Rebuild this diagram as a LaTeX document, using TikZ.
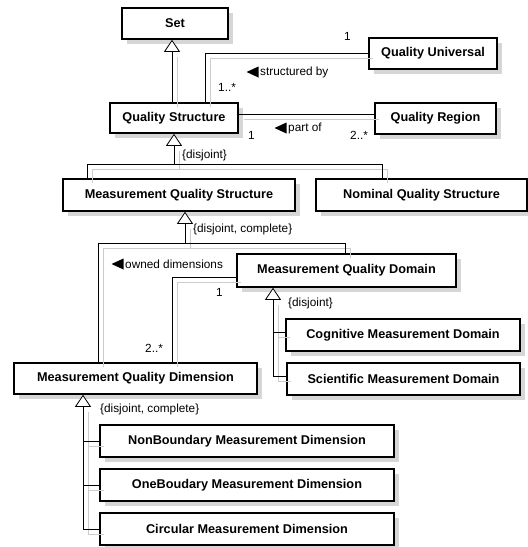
\documentclass[tikz,border=0pt]{standalone}
\usepackage{fontspec}
\setmainfont{Liberation Sans}
\usetikzlibrary{arrows.meta,shadows}
\tikzset{
  cls/.style={draw=black, line width=1.6pt, fill=white, rectangle, inner sep=0pt,
    minimum height=31pt, font=\fontsize{12.7}{14}\selectfont\bfseries,
    drop shadow={shadow xshift=5pt, shadow yshift=-5pt, fill=black!16, opacity=1, draw=none}},
  lbl/.style={inner sep=0pt, anchor=west, font=\fontsize{11.8}{13}\selectfont},
  conn/.style={draw=black, line width=0.8pt},
  gen/.style={conn, -{Triangle[open, fill=white, length=12pt, width=16pt, line width=0.8pt]}},
  shd/.style={draw=black!20, line width=0.8pt, transform canvas={shift={(5pt,-5pt)}}},
  shdgen/.style={shd, shorten >=12pt},
}
\begin{document}
\begin{tikzpicture}[x=1pt, y=-1pt]
\useasboundingbox (0,0) rectangle (528,547);

% classes
\node[cls, minimum width=106] (set) at (175,23.5) {Set};
\node[cls, minimum width=128] (qu) at (433,53.5) {Quality Universal};
\node[cls, minimum width=128, minimum height=30] (qs) at (174,118) {Quality Structure};
\node[cls, minimum width=121] (qr) at (435.5,118.5) {Quality Region};
\node[cls, minimum width=232, minimum height=32] (mqs) at (179,195) {Measurement Quality Structure};
\node[cls, minimum width=211, minimum height=32] (nqs) at (421.5,195) {Nominal Quality Structure};
\node[cls, minimum width=219, minimum height=33] (mqd) at (346.5,270.5) {Measurement Quality Domain};
\node[cls, minimum width=234, minimum height=32] (cmd) at (403,335) {Cognitive Measurement Domain};
\node[cls, minimum width=233, minimum height=32] (smd) at (403.5,379) {Scientific Measurement Domain};
\node[cls, minimum width=243] (mqdim) at (135.5,378.5) {Measurement Quality Dimension};
\node[cls, minimum width=294, minimum height=32] (nbmd) at (247,441) {NonBoundary Measurement Dimension};
\node[cls, minimum width=294, minimum height=32] (obmd) at (247,485) {OneBoudary Measurement Dimension};
\node[cls, minimum width=294, minimum height=32] (cmdim) at (247,529) {Circular Measurement Dimension};

% helper coordinates
\coordinate (g1) at (172,0);
\coordinate (a1) at (205,0);
\coordinate (bar2a) at (87,164);
\coordinate (bar2b) at (382,164);
\coordinate (t3) at (185,0);
\coordinate (bar3a) at (98,243);
\coordinate (bar3b) at (345,243);
\coordinate (a3) at (172,0);
\coordinate (t4) at (273,0);
\coordinate (t5) at (83,0);

% connector shadows
\draw[shdgen] (qs.north -| g1) -- (set.south -| g1);
\draw[shd] (qs.north -| a1) |- (qu.west);
\draw[shd] ([yshift=4pt]qs.east) -- ([yshift=4pt]qs.east -| qr.west);
\draw[shd] (mqs.north -| bar2a) -- (bar2a) -- (bar2b) -- (nqs.north -| bar2b);
\draw[shdgen] (qs.south |- bar2a) -- (qs.south);
\draw[shd] (mqdim.north -| bar3a) -- (bar3a) -- (bar3b) -- (mqd.north -| bar3b);
\draw[shdgen] (t3 |- bar3a) -- (mqs.south -| t3);
\draw[shd] ([yshift=-6.5pt]mqd.west) -| (mqdim.north -| a3);
\draw[shdgen] ([yshift=2.5pt]smd.west) -| (mqd.south -| t4);
\draw[shd] ([yshift=3pt]cmd.west) -- ([yshift=3pt]cmd.west -| t4);
\draw[shdgen] (cmdim.west) -| (mqdim.south -| t5);
\draw[shd] (nbmd.west) -- (nbmd.west -| t5);
\draw[shd] (obmd.west) -- (obmd.west -| t5);

% connectors
\draw[gen] (qs.north -| g1) -- (set.south -| g1);
\draw[conn] (qs.north -| a1) |- (qu.west);
\draw[conn] ([yshift=4pt]qs.east) -- ([yshift=4pt]qs.east -| qr.west);
\draw[conn] (mqs.north -| bar2a) -- (bar2a) -- (bar2b) -- (nqs.north -| bar2b);
\draw[gen] (qs.south |- bar2a) -- (qs.south);
\draw[conn] (mqdim.north -| bar3a) -- (bar3a) -- (bar3b) -- (mqd.north -| bar3b);
\draw[gen] (t3 |- bar3a) -- (mqs.south -| t3);
\draw[conn] ([yshift=-6.5pt]mqd.west) -| (mqdim.north -| a3);
\draw[gen] ([yshift=2.5pt]smd.west) -| (mqd.south -| t4);
\draw[conn] ([yshift=3pt]cmd.west) -- ([yshift=3pt]cmd.west -| t4);
\draw[gen] (cmdim.west) -| (mqdim.south -| t5);
\draw[conn] (nbmd.west) -- (nbmd.west -| t5);
\draw[conn] (obmd.west) -- (obmd.west -| t5);

% labels
\node[lbl] (m1) at (344,36) {1};
\node[lbl] (m2) at (218,87) {1..*};
\node[lbl] (l1) at (260,72) {structured by};
\fill ([xshift=-1.5pt,yshift=5.5pt]l1.west) -- ++(0,11) -- ++(-12,-5.5) -- cycle;
\node[lbl] (m3) at (248,135) {1};
\node[lbl] (m4) at (350,135) {2..*};
\node[lbl] (l2) at (288,128) {part of};
\fill ([xshift=-1.5pt,yshift=5.5pt]l2.west) -- ++(0,11) -- ++(-12,-5.5) -- cycle;
\node[lbl] (c1) at (182,155) {\{disjoint\}};
\node[lbl] (c2) at (193,229) {\{disjoint, complete\}};
\node[lbl] (l3) at (125,264) {owned dimensions};
\fill ([xshift=-1.5pt,yshift=5.5pt]l3.west) -- ++(0,11) -- ++(-12,-5.5) -- cycle;
\node[lbl] (m5) at (216,292) {1};
\node[lbl] (m6) at (145,348) {2..*};
\node[lbl] (c3) at (288,303) {\{disjoint\}};
\node[lbl] (c4) at (100,409) {\{disjoint, complete\}};
\end{tikzpicture}
\end{document}
